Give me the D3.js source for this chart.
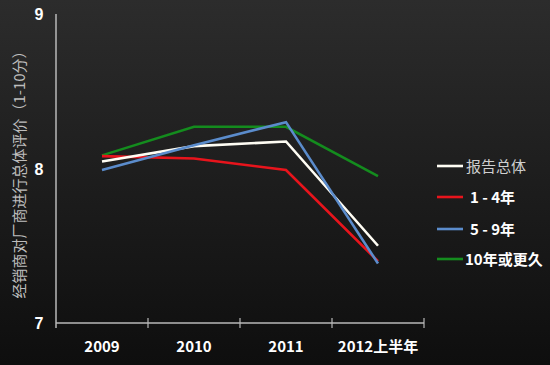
<!DOCTYPE html>
<html><head><meta charset="utf-8">
<script src="https://cdn.jsdelivr.net/npm/d3@7"></script>
<style>html,body{margin:0;padding:0;background:#111;}svg{display:block;}</style>
</head><body>
<script>
const categories = ["2009", "2010", "2011", "2012上半年"];
const seriesNames = ["报告总体", "1 - 4年", "5 - 9年", "10年或更久"];
const seriesColors = ["#fffdf4", "#e8141c", "#5b8ccc", "#148c1e"];
const overall = [8.045, 8.145, 8.175, 7.50];
const yrs1to4 = [8.08, 8.065, 7.99, 7.40];
const yrs5to9 = [7.99, 8.15, 8.30, 7.385];
const yrs10plus = [8.085, 8.27, 8.27, 7.95];
const yTicks = [7, 8, 9];
const yTitle = "经销商对厂商进行总体评价（1-10分）";

const W = 550, H = 365;
const svg = d3.select("body").append("svg").attr("width", W).attr("height", H);
const defs = svg.append("defs");
const grad = defs.append("linearGradient").attr("id", "bg").attr("x1", 0).attr("y1", 0).attr("x2", 0).attr("y2", 1);
grad.append("stop").attr("offset", "0%").attr("stop-color", "#2c2c2c");
grad.append("stop").attr("offset", "100%").attr("stop-color", "#0e0e0e");
svg.append("rect").attr("width", W).attr("height", H).attr("fill", "url(#bg)");

const x = d3.scaleBand().domain(categories).range([56, 424]);
const y = d3.scaleLinear().domain([7, 9]).range([323, 14]);

const axisColor = "#b8b8b8";
svg.append("line").attr("x1", 56).attr("x2", 56).attr("y1", y(9)).attr("y2", y(7))
  .attr("stroke", axisColor).attr("stroke-width", 1.5);
svg.append("line").attr("x1", x.range()[0]).attr("x2", x.range()[1]).attr("y1", y(7)).attr("y2", y(7))
  .attr("stroke", axisColor).attr("stroke-width", 1.5);
const tickXs = categories.map(c => x(c) + x.bandwidth());
svg.selectAll(".xt").data(tickXs).enter().append("line")
  .attr("x1", d => d).attr("x2", d => d).attr("y1", y(7) - 5).attr("y2", y(7) + 5)
  .attr("stroke", axisColor).attr("stroke-width", 1.2);
svg.append("line").attr("x1", 56).attr("x2", 56).attr("y1", y(7)).attr("y2", y(7) + 5)
  .attr("stroke", axisColor).attr("stroke-width", 1.5);

const sansBold = "Liberation Sans, Arial, sans-serif";
const cjk = "Noto Sans CJK SC, sans-serif";

svg.selectAll(".xl").data(categories).enter().append("text")
  .attr("x", d => x(d) + x.bandwidth() / 2).attr("y", 352)
  .attr("text-anchor", "middle").attr("fill", "#ffffff")
  .attr("font-family", cjk).attr("font-weight", "bold").attr("font-size", 15)
  .text(d => d);

svg.selectAll(".yl").data(yTicks).enter().append("text")
  .attr("x", 39).attr("y", d => y(d) + 6)
  .attr("text-anchor", "middle").attr("fill", "#ffffff")
  .attr("font-family", sansBold).attr("font-weight", "bold").attr("font-size", 16)
  .text(d => d);

svg.append("text").attr("transform", "translate(25,171) rotate(-90)")
  .attr("text-anchor", "middle").attr("fill", "#bdbdbd")
  .attr("font-family", cjk).attr("font-size", 15)
  .text(yTitle);

const allSeries = [overall, yrs1to4, yrs5to9, yrs10plus];
const line = d3.line().x((d, i) => x(categories[i]) + x.bandwidth() / 2).y(d => y(d));
const drawOrder = [3, 1, 0, 2];
drawOrder.forEach(k => {
  svg.append("path").datum(allSeries[k]).attr("d", line)
    .attr("fill", "none").attr("stroke", seriesColors[k]).attr("stroke-width", 2.6)
    .attr("stroke-linejoin", "miter");
});

const legY = [166, 197, 229, 259];
seriesNames.forEach((n, i) => {
  svg.append("line").attr("x1", 437).attr("x2", 463).attr("y1", legY[i]).attr("y2", legY[i])
    .attr("stroke", seriesColors[i]).attr("stroke-width", 2.6);
  const t = svg.append("text").attr("x", i === 0 ? 466 : (i === 3 ? 465 : 470)).attr("y", legY[i] + 6)
    .attr("font-size", 15).attr("font-family", cjk).text(n);
  if (i === 0) {
    t.attr("fill", "#cfcfcf");
  } else {
    t.attr("fill", "#ffffff").attr("font-weight", "bold");
  }
});
</script>
</body></html>
